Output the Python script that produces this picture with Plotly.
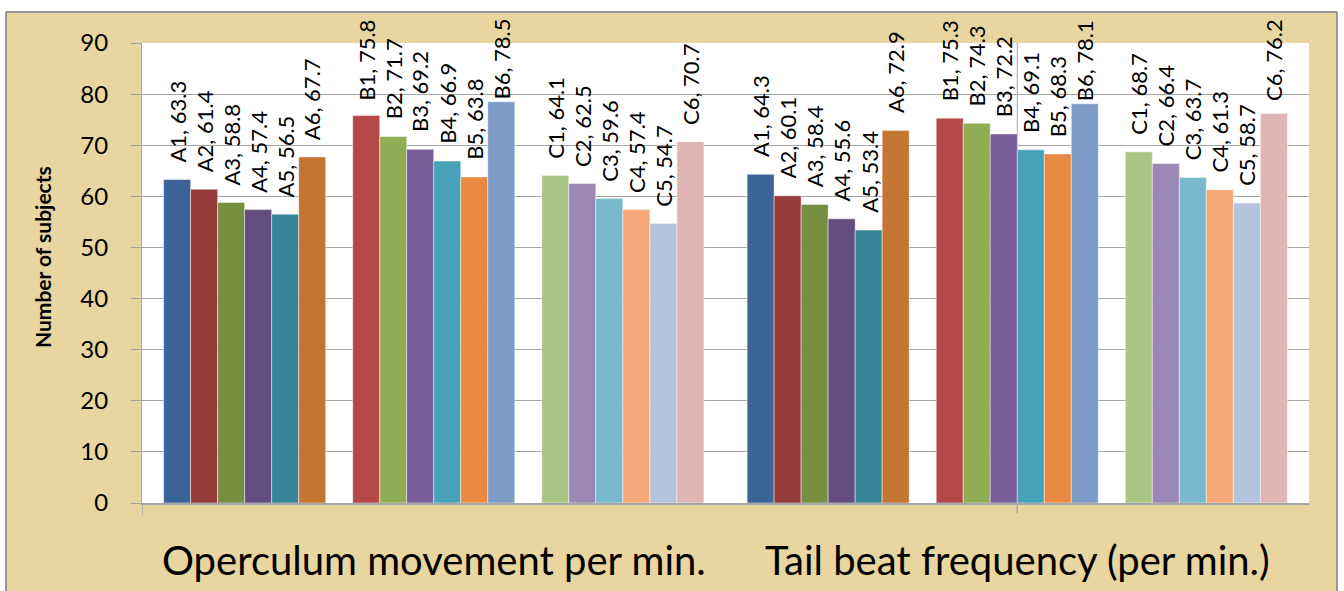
import plotly.graph_objects as go

# ---- data -------------------------------------------------------------
categories = ["Operculum movement per min.", "Tail beat frequency (per min.)"]
series_names = ["A1", "A2", "A3", "A4", "A5", "A6",
                "B1", "B2", "B3", "B4", "B5", "B6",
                "C1", "C2", "C3", "C4", "C5", "C6"]
operculum = [63.3, 61.4, 58.8, 57.4, 56.5, 67.7,
             75.8, 71.7, 69.2, 66.9, 63.8, 78.5,
             64.1, 62.5, 59.6, 57.4, 54.7, 70.7]
tail_beat = [64.3, 60.1, 58.4, 55.6, 53.4, 72.9,
             75.3, 74.3, 72.2, 69.1, 68.3, 78.1,
             68.7, 66.4, 63.7, 61.3, 58.7, 76.2]
y_ticks = [0, 10, 20, 30, 40, 50, 60, 70, 80, 90]

colors = ["#3C6496", "#963B3B", "#778E41", "#624D7E", "#378698", "#C47532",
          "#B44747", "#8FAD55", "#785C97", "#47A1B9", "#E88A41", "#7E9CC8",
          "#ABC584", "#9B88B4", "#7BB9CF", "#F7A878", "#B5C4DE", "#DFB5B5"]

values_by_category = [operculum, tail_beat]

# ---- geometry (one bar = one x unit) ---------------------------------
W, H = 1344, 591
L_M, R_M, T_M, B_M = 142, 35, 43, 88
PLOT_W, PLOT_H = W - L_M - R_M, H - T_M - B_M
SLOTS_PER_CAT = 20          # 3 groups of 6 bars + 2 spacer slots
GAP = 1.6                   # gap between categories, in bar widths
CAT_W = SLOTS_PER_CAT + GAP
X_RANGE = [-GAP / 2, 2 * CAT_W - GAP / 2]
Y_MAX = 90

GRID = "#A6A6A6"
PARCHMENT = "#E8D5A0"
FONT = "Lato"


def bar_x(cat_idx, s_idx):
    group, member = divmod(s_idx, 6)
    return cat_idx * CAT_W + group * 7 + member + 0.5


def cat_center(cat_idx):
    return cat_idx * CAT_W + SLOTS_PER_CAT / 2


def px_x(px):
    return (px - L_M) / PLOT_W


def px_y(py):
    return (H - B_M - py) / PLOT_H


fig = go.Figure()

for s_idx, name in enumerate(series_names):
    fig.add_trace(go.Bar(
        name=name,
        x=[bar_x(c, s_idx) for c in range(len(categories))],
        y=[vals[s_idx] for vals in values_by_category],
        width=1,
        marker=dict(color=colors[s_idx],
                    line=dict(color="rgba(255,255,255,0.45)", width=1)),
        showlegend=False,
        hoverinfo="x+y+name",
    ))

# data labels: "Series, value", rotated, kept inside the chart area
annotations = []
LABEL_LEN = 83      # approx. rotated label length in px
TOP_LIMIT = 20      # labels never rise above this pixel row
for c, vals in enumerate(values_by_category):
    for s_idx, name in enumerate(series_names):
        v = vals[s_idx]
        bar_top_px = T_M + PLOT_H * (1 - v / Y_MAX)
        shift = max(0.0, min(15.0, bar_top_px - LABEL_LEN - TOP_LIMIT))
        annotations.append(dict(
            x=bar_x(c, s_idx), y=v, xref="x", yref="y",
            text=f"{name}, {v:.1f}", textangle=-90, showarrow=False,
            xanchor="center", yanchor="bottom", yshift=shift,
            font=dict(family=FONT, size=22, color="black"),
        ))

# category names under the axis
for c, label in enumerate(categories):
    annotations.append(dict(
        x=cat_center(c), y=px_y(560), xref="x", yref="paper",
        text=label, showarrow=False, xanchor="center", yanchor="middle",
        font=dict(family=FONT, size=40, color="black"),
    ))

annotations.append(dict(
    x=px_x(42), y=px_y(257), xref="paper", yref="paper",
    text="<b>Number of subjects</b>", textangle=-90, showarrow=False,
    xanchor="center", yanchor="middle",
    font=dict(family=FONT, size=21, color="black"),
))

c2 = cat_center(1)
shapes = [
    # vertical marker at the centre of the second category
    dict(type="line", xref="x", yref="y", x0=c2, x1=c2,
         y0=0, y1=Y_MAX, line=dict(color=GRID, width=1), layer="below"),
    # category-axis tick marks
    dict(type="line", xref="x", yref="paper", x0=X_RANGE[0], x1=X_RANGE[0],
         y0=0, y1=px_y(H - B_M + 12), line=dict(color=GRID, width=1.5)),
    dict(type="line", xref="x", yref="paper", x0=c2, x1=c2,
         y0=0, y1=px_y(H - B_M + 10), line=dict(color=GRID, width=1.5)),
    # white surround outside the chart frame
    dict(type="rect", xref="paper", yref="paper", x0=px_x(0), x1=px_x(W),
         y0=px_y(12), y1=px_y(0), fillcolor="white", line=dict(width=0)),
    dict(type="rect", xref="paper", yref="paper", x0=px_x(0), x1=px_x(6),
         y0=px_y(H), y1=px_y(0), fillcolor="white", line=dict(width=0)),
    dict(type="rect", xref="paper", yref="paper", x0=px_x(1337), x1=px_x(W),
         y0=px_y(H), y1=px_y(0), fillcolor="white", line=dict(width=0)),
    # chart frame
    dict(type="line", xref="paper", yref="paper", x0=px_x(6), x1=px_x(1337),
         y0=px_y(12), y1=px_y(12), line=dict(color="#979797", width=2)),
    dict(type="line", xref="paper", yref="paper", x0=px_x(6), x1=px_x(6),
         y0=px_y(12), y1=px_y(H), line=dict(color="#979797", width=2)),
    dict(type="line", xref="paper", yref="paper", x0=px_x(1337), x1=px_x(1337),
         y0=px_y(12), y1=px_y(H), line=dict(color="#979797", width=2)),
]

fig.update_layout(
    width=W, height=H,
    margin=dict(l=L_M, r=R_M, t=T_M, b=B_M, pad=0, autoexpand=False),
    paper_bgcolor=PARCHMENT,
    plot_bgcolor="white",
    barmode="overlay",
    annotations=annotations,
    shapes=shapes,
    font=dict(family=FONT, color="black"),
)

fig.update_xaxes(
    range=X_RANGE, showgrid=False, zeroline=False, automargin=False,
    showline=True, linecolor=GRID, linewidth=2,
    showticklabels=False, ticks="",
)
fig.update_yaxes(
    range=[0, Y_MAX], tickmode="array", tickvals=y_ticks, automargin=False,
    showgrid=True, gridcolor=GRID, gridwidth=1, zeroline=False,
    showline=True, linecolor=GRID, linewidth=1,
    ticks="outside", ticklen=10, tickcolor=GRID, tickwidth=1,
    tickfont=dict(family=FONT, size=24, color="black"),
    ticklabelstandoff=18,
)

fig.write_html("out.html")
